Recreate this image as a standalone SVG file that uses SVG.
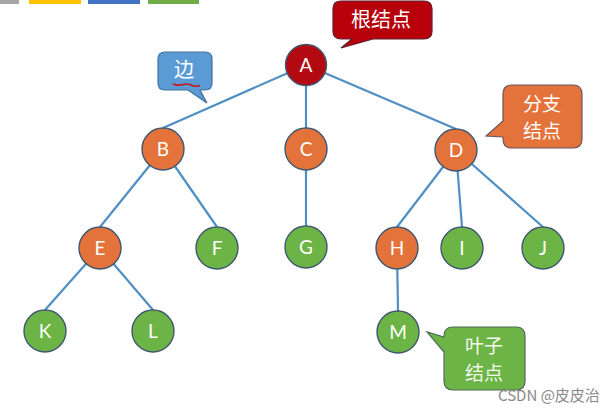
<svg xmlns="http://www.w3.org/2000/svg" width="613" height="412" viewBox="0 0 613 412">
<style>
.edge{stroke:#4f8fc4;stroke-width:2.2;fill:none}
.n circle{stroke:#3f5870;stroke-width:1.4}
.red circle{fill:#b30a12}
.org circle{fill:#e3733a}
.grn circle{fill:#6db446}
.n text{font-family:Lato,"Open Sans",sans-serif;font-size:19px;fill:#ffffff;text-anchor:middle}
.co text{font-family:"Noto Sans CJK SC",sans-serif;font-size:20px;text-anchor:middle}
.co text.two{font-size:19px}
</style>
<rect width="613" height="412" fill="#ffffff"/>
<g id="colorbars">
<rect x="0" y="0" width="19" height="4" fill="#a5a5a5"/>
<rect x="29" y="0" width="52" height="4" fill="#ffc000"/>
<rect x="88" y="0" width="52" height="4" fill="#4472c4"/>
<rect x="148" y="0" width="51" height="4" fill="#70ad47"/>
</g>
<g id="connectors">
<line class="edge" x1="306" y1="65" x2="163" y2="128"/>
<line class="edge" x1="306" y1="65" x2="306" y2="128"/>
<line class="edge" x1="306" y1="65" x2="456" y2="129"/>
<line class="edge" x1="163" y1="149" x2="100" y2="227"/>
<line class="edge" x1="163" y1="149" x2="217" y2="227"/>
<line class="edge" x1="306" y1="149" x2="306" y2="226"/>
<line class="edge" x1="456" y1="150" x2="397" y2="227"/>
<line class="edge" x1="456" y1="150" x2="462" y2="227"/>
<line class="edge" x1="456" y1="150" x2="543" y2="227"/>
<line class="edge" x1="100" y1="248" x2="45" y2="310"/>
<line class="edge" x1="100" y1="248" x2="153" y2="310"/>
<line class="edge" x1="397" y1="248" x2="398" y2="311"/>
</g>
<g id="node-A" class="n red"><circle cx="306" cy="65" r="20.5"/><text x="306" y="71.5">A</text></g>
<g id="node-B" class="n org"><circle cx="163" cy="149" r="21"/><text x="163" y="155.5">B</text></g>
<g id="node-C" class="n org"><circle cx="306" cy="149" r="21"/><text x="306" y="155.5">C</text></g>
<g id="node-D" class="n org"><circle cx="456" cy="150" r="21"/><text x="456" y="156.5">D</text></g>
<g id="node-E" class="n org"><circle cx="100" cy="248" r="21"/><text x="100" y="254.5">E</text></g>
<g id="node-F" class="n grn"><circle cx="217" cy="248" r="21"/><text x="217" y="254.5">F</text></g>
<g id="node-G" class="n grn"><circle cx="306" cy="247" r="21"/><text x="306" y="253.5">G</text></g>
<g id="node-H" class="n org"><circle cx="397" cy="248" r="21"/><text x="397" y="254.5">H</text></g>
<g id="node-I" class="n grn"><circle cx="462" cy="248" r="21"/><text x="462" y="254.5">I</text></g>
<g id="node-J" class="n grn"><circle cx="543" cy="248" r="21"/><text x="543" y="254.5">J</text></g>
<g id="node-K" class="n grn"><circle cx="45" cy="331" r="21"/><text x="45" y="337.5">K</text></g>
<g id="node-L" class="n grn"><circle cx="153" cy="331" r="21"/><text x="153" y="337.5">L</text></g>
<g id="node-M" class="n grn"><circle cx="398" cy="332" r="21"/><text x="398" y="338.5">M</text></g>
<g id="callout-root" class="co">
<path d="M341,1 H424 Q432,1 432,9 V31 Q432,39 424,39 H373 L341,48 L352,39 H341 Q333,39 333,31 V9 Q333,1 341,1 Z" fill="#b8000b" stroke="#5e1f2e" stroke-width="1.2"/>
<text x="381" y="26.5" fill="#ffffff">根结点</text>
</g>
<g id="callout-edge" class="co">
<path d="M165,52 H205 Q212,52 212,59 V83 Q212,90 205,90 H200 L207,103 L188,90 H165 Q158,90 158,83 V59 Q158,52 165,52 Z" fill="#5b9bd5" stroke="#41719c" stroke-width="1.2"/>
<text x="184" y="77" fill="#ffffff">边</text>
<path d="M173,84 q5,2 10,0.5 q5,-1.5 9,1 q4,1.5 8,0" stroke="#d41010" stroke-width="1.6" fill="none"/>
</g>
<g id="callout-branch" class="co">
<path d="M512,85 H573 Q582,85 582,94 V139 Q582,148 573,148 H512 Q503,148 503,139 V137 L486,136 L503,121 V94 Q503,85 512,85 Z" fill="#e3733a" stroke="#6b5560" stroke-width="1.2"/>
<text class="two" x="542" y="111" fill="#ffffff">分支</text>
<text class="two" x="542" y="138" fill="#ffffff">结点</text>
</g>
<g id="callout-leaf" class="co">
<path d="M453,327 H516 Q525,327 525,336 V381 Q525,390 516,390 H453 Q444,390 444,381 V352 L427,332 L444,337 V336 Q444,327 453,327 Z" fill="#6db446" stroke="#4f6a5a" stroke-width="1.2"/>
<text class="two" x="484" y="353" fill="#f3f8ec">叶子</text>
<text class="two" x="484" y="380" fill="#f3f8ec">结点</text>
</g>
<text x="498" y="401" font-family="'Noto Sans CJK SC',sans-serif" font-size="15" fill="#8a8a8a">CSDN @皮皮治</text>
</svg>
